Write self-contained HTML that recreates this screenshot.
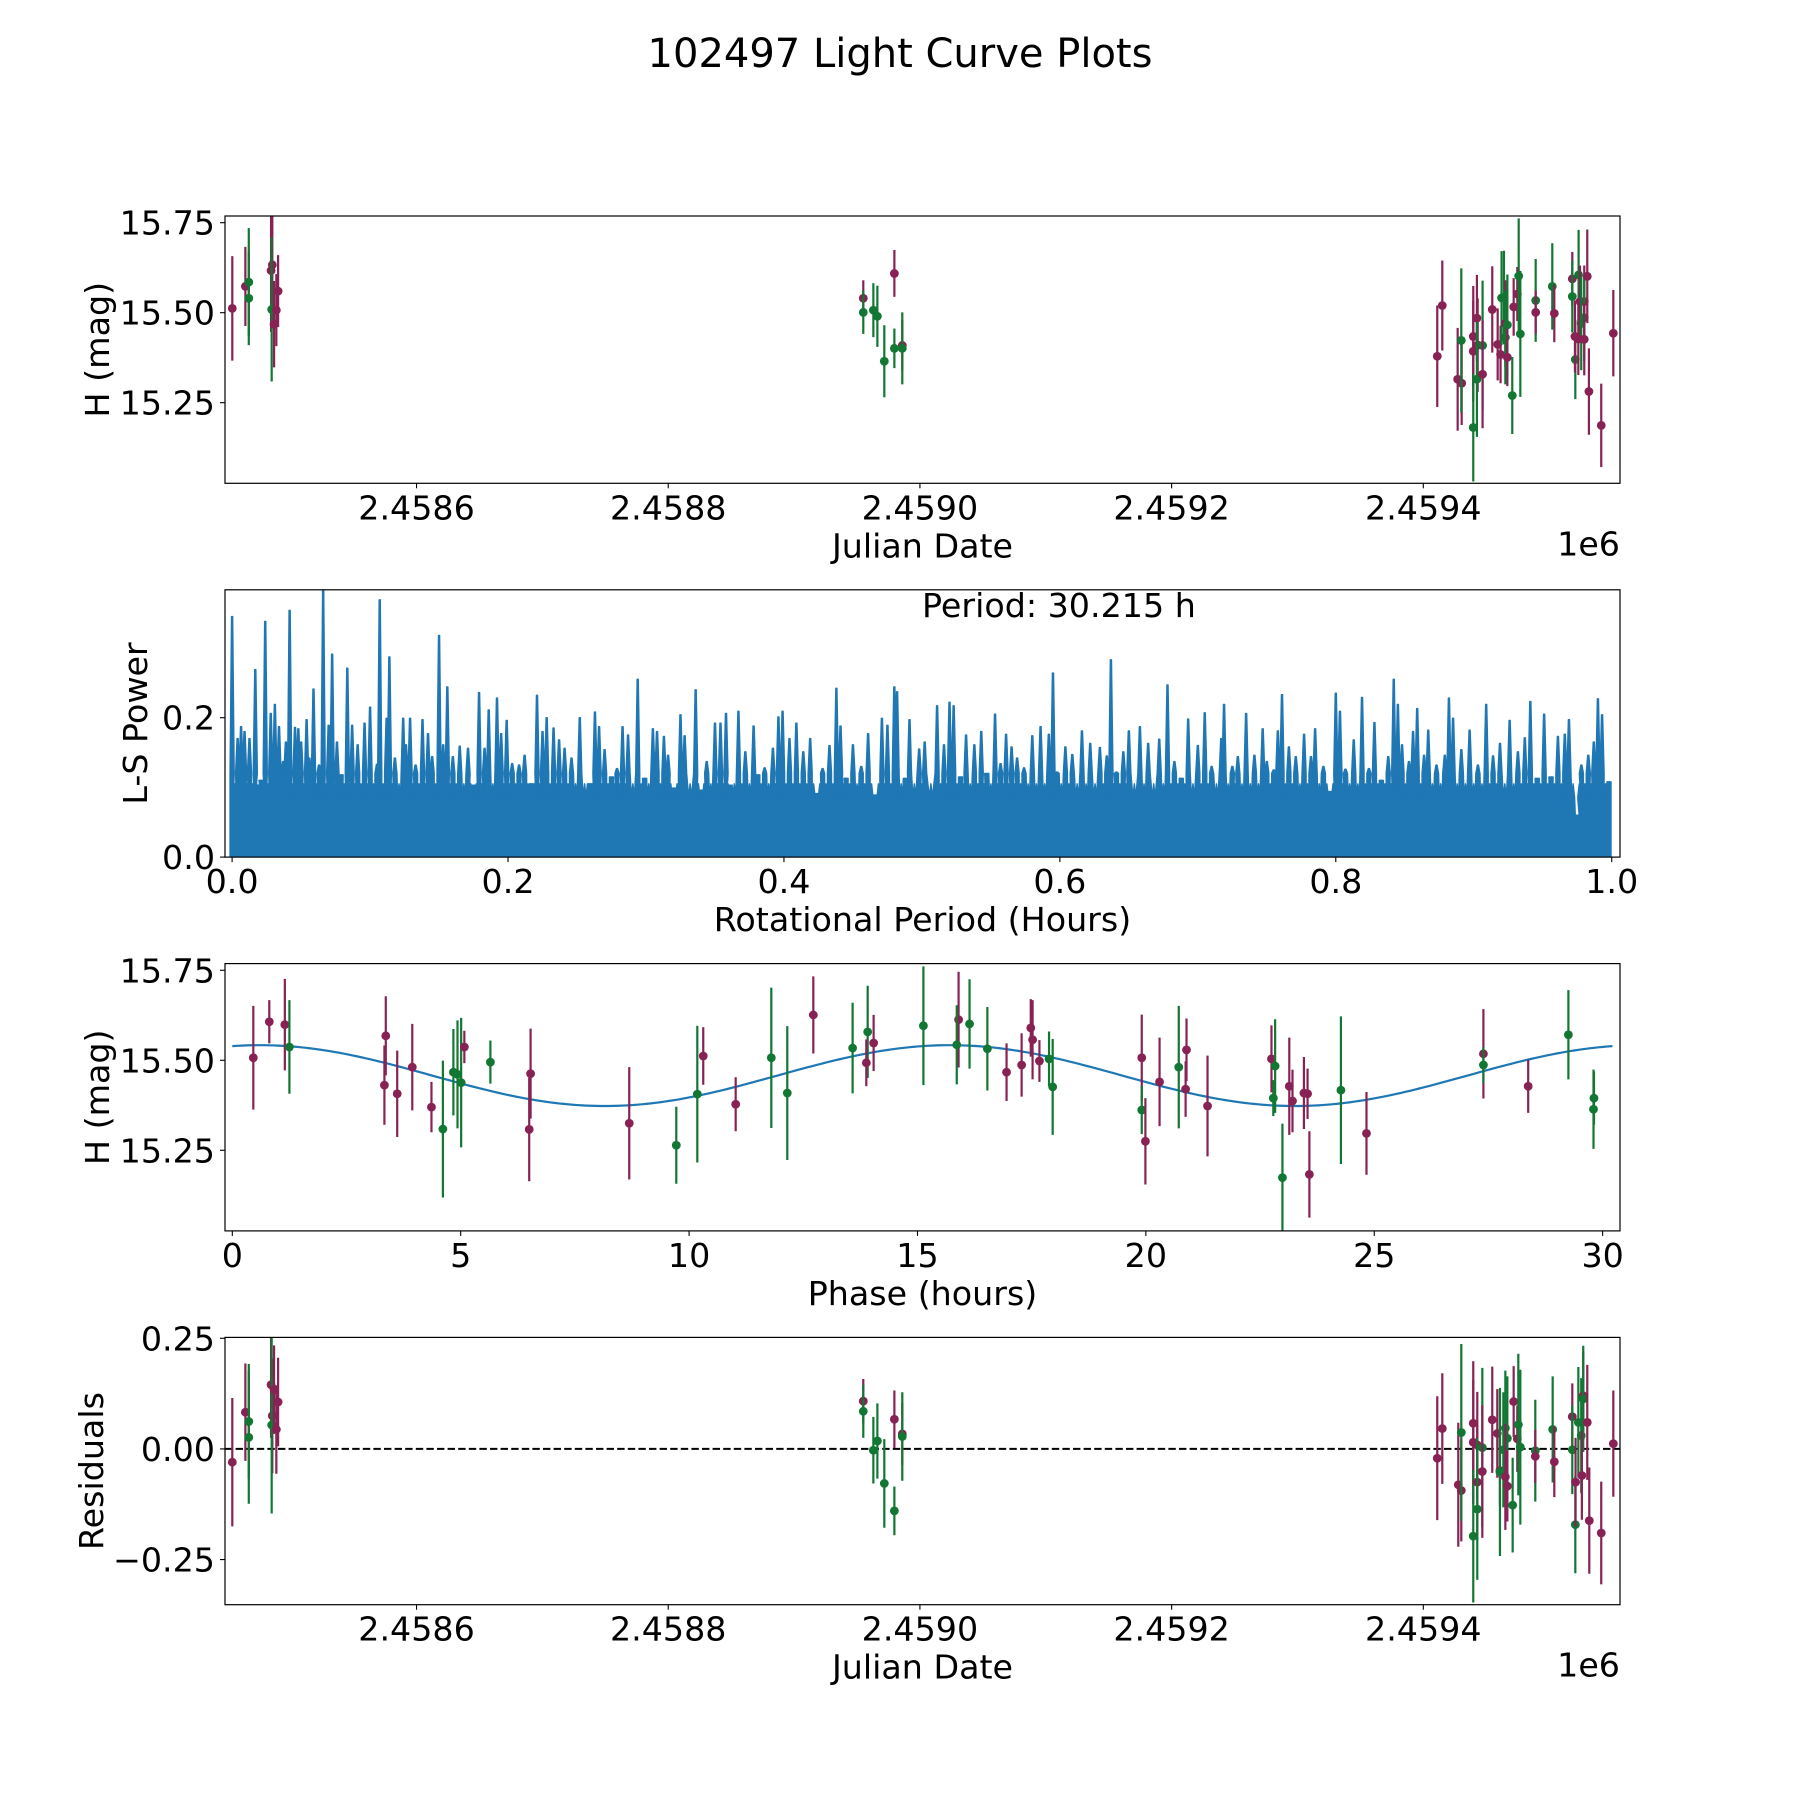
<!DOCTYPE html>
<html><head><meta charset="utf-8"><title>102497 Light Curve Plots</title>
<style>
html,body{margin:0;padding:0;background:#fff;}
svg{display:block;font-family:"DejaVu Sans","Liberation Sans",sans-serif;}
</style></head>
<body>
<svg id="fig" width="1800" height="1800" viewBox="0 0 1800 1800" xmlns="http://www.w3.org/2000/svg">
<rect x="0" y="0" width="1800" height="1800" fill="#fff"/>
<text x="900" y="67" font-size="40" text-anchor="middle">102497 Light Curve Plots</text>
</svg>
<script>
// ---------- light curve data (Julian date, H mag, error, band) ----------
const lcJD = [2458453.6,2458464.0,2458466.7,2458466.7,2458484.4,2458485.4,2458484.9,2458486.8,2458488.6,2458490.0,
 2458955.0,2458955.0,2458963.0,2458966.2,2458971.7,2458979.7,2458979.7,2458986.0,2458986.0,
 2459411.1,2459415.1,2459427.3,2459430.5,2459430.2,2459439.7,2459439.7,2459439.7,2459442.6,2459443.2,2459442.6,2459447.1,2459447.1,
 2459454.8,2459459.1,2459461.4,2459462.2,2459464.1,2459465.2,2459465.2,2459466.8,2459466.8,2459470.7,2459471.8,2459474.7,2459475.8,
 2459477.1,2459489.3,2459489.3,2459502.5,2459504.1,2459518.4,2459518.4,2459520.8,2459520.5,2459523.4,2459524.5,2459527.9,2459525.5,
 2459527.9,2459527.9,2459523.2,2459530.3,2459531.6,2459541.4,2459551.0];
const lcMag = [15.512,15.573,15.585,15.540,15.617,15.633,15.509,15.468,15.507,15.560,
 15.540,15.501,15.507,15.490,15.365,15.609,15.401,15.409,15.401,
 15.379,15.520,15.315,15.304,15.423,15.434,15.393,15.181,15.485,15.410,15.315,15.409,15.329,
 15.509,15.412,15.384,15.541,15.542,15.470,15.431,15.466,15.376,15.270,15.516,15.552,15.602,
 15.441,15.534,15.501,15.573,15.498,15.594,15.545,15.370,15.434,15.605,15.531,15.531,15.470,
 15.486,15.426,15.427,15.601,15.281,15.187,15.443];
const lcErr = [0.145,0.11,0.15,0.13,0.17,0.17,0.2,0.12,0.1,0.1,
 0.05,0.06,0.075,0.085,0.1,0.065,0.055,0.07,0.1,
 0.141,0.125,0.143,0.116,0.2,0.14,0.14,0.15,0.12,0.13,0.16,0.18,0.15,
 0.12,0.1,0.08,0.13,0.13,0.12,0.13,0.14,0.08,0.107,0.08,0.075,0.16,
 0.175,0.115,0.06,0.12,0.08,0.075,0.1,0.11,0.1,0.125,0.1,0.1,0.13,
 0.12,0.1,0.1,0.13,0.12,0.116,0.12];
const lcBand = ['m','m','g','g','m','m','g','m','m','m',
 'm','g','g','g','g','m','g','m','g',
 'm','m','m','m','g','m','m','g','m','m','g','g','m',
 'm','m','m','g','g','m','g','g','m','g','m','m','g',
 'g','g','m','g','m','m','g','g','m','g','m','m','g',
 'g','m','m','m','m','m','m'];

// ---------- periodogram data ----------
const psFreq = [0.000,0.004,0.0065,0.009,0.0126,0.0168,0.019,0.021,0.024,0.028,0.031,0.034,0.037,0.039,0.0417,0.0456,0.048,0.050,0.054,0.056,0.059,0.063,0.066,0.070,0.0725,0.076,0.079,0.0835,0.087,0.091,0.096,0.100,0.105,0.107,0.112,0.114,0.118,0.124,0.126,0.129,0.133,0.138,0.142,0.145,0.150,0.153,0.156,0.160,0.165,0.171,0.175,0.179,0.183,0.186,0.192,0.195,0.199,0.203,0.208,0.212,0.217,0.221,0.225,0.228,0.233,0.237,0.241,0.246,0.252,0.259,0.263,0.266,0.270,0.275,0.279,0.283,0.287,0.294,0.299,0.305,0.308,0.313,0.316,0.320,0.325,0.328,0.336,0.340,0.344,0.350,0.354,0.358,0.361,0.367,0.372,0.378,0.381,0.386,0.392,0.396,0.399,0.404,0.409,0.414,0.419,0.424,0.428,0.433,0.438,0.441,0.445,0.450,0.456,0.461,0.466,0.471,0.475,0.480,0.482,0.488,0.491,0.498,
 0.502,0.511,0.516,0.520,0.523,0.528,0.532,0.538,0.543,0.547,0.553,0.557,0.561,0.565,0.569,0.574,0.580,0.586,0.592,0.595,0.598,0.604,0.609,0.616,0.622,0.629,0.634,0.637,0.641,0.646,0.650,0.658,0.664,0.672,0.678,0.683,0.688,0.693,0.700,0.705,0.710,0.717,0.719,0.725,0.729,0.735,0.741,0.747,0.750,0.755,0.758,0.761,0.766,0.771,0.777,0.782,0.785,0.791,0.796,0.800,0.803,0.807,0.813,0.819,0.824,0.828,0.833,0.838,0.842,0.845,0.848,0.853,0.856,0.859,0.864,0.867,0.873,0.879,0.882,0.885,0.891,0.897,0.903,0.909,0.914,0.919,0.926,0.932,0.937,0.941,0.946,0.951,0.956,0.961,0.966,0.969,0.975,0.978,0.983,0.987,0.990,0.993,0.998];
const psPower = [0.345,0.170,0.187,0.180,0.170,0.269,0.103,0.110,0.338,0.206,0.219,0.187,0.137,0.165,0.354,0.186,0.184,0.165,0.197,0.142,0.241,0.132,0.383,0.189,0.291,0.165,0.118,0.271,0.189,0.161,0.192,0.215,0.133,0.369,0.199,0.287,0.142,0.199,0.161,0.199,0.132,0.197,0.177,0.144,0.318,0.161,0.244,0.144,0.159,0.156,0.103,0.236,0.156,0.211,0.228,0.177,0.196,0.134,0.132,0.146,0.105,0.232,0.180,0.200,0.185,0.168,0.156,0.142,0.200,0.105,0.208,0.187,0.154,0.115,0.127,0.187,0.175,0.255,0.113,0.184,0.180,0.173,0.146,0.099,0.204,0.174,0.240,0.096,0.137,0.192,0.192,0.206,0.103,0.209,0.151,0.188,0.118,0.128,0.156,0.201,0.209,0.170,0.192,0.151,0.170,0.091,0.127,0.160,0.242,0.188,0.113,0.161,0.130,0.177,0.089,0.199,0.189,0.244,0.237,0.113,0.197,0.155,
 0.165,0.217,0.161,0.222,0.217,0.115,0.175,0.161,0.180,0.120,0.205,0.134,0.176,0.158,0.142,0.128,0.174,0.187,0.176,0.264,0.122,0.158,0.147,0.181,0.163,0.157,0.145,0.283,0.122,0.151,0.181,0.187,0.163,0.169,0.247,0.137,0.113,0.198,0.160,0.207,0.130,0.170,0.219,0.130,0.144,0.206,0.146,0.184,0.137,0.125,0.181,0.233,0.158,0.144,0.176,0.144,0.184,0.130,0.094,0.235,0.209,0.126,0.168,0.229,0.127,0.193,0.110,0.144,0.255,0.219,0.161,0.137,0.180,0.213,0.146,0.182,0.132,0.146,0.228,0.199,0.154,0.182,0.132,0.219,0.145,0.163,0.196,0.151,0.171,0.223,0.113,0.205,0.115,0.173,0.176,0.197,0.060,0.132,0.146,0.165,0.227,0.204,0.108];
const psTroughLevel = 0.085;
const psShoulderLevel = 0.12;
const bestPeriodLabel = "Period: 30.215 h";

// ---------- phase-folded data ----------
const phHours = [0.46,0.81,1.15,1.25,3.36,3.33,3.61,3.94,4.36,4.61,4.84,4.93,5.01,5.08,5.65,6.53,6.50,8.69,9.72,10.18,10.31,
 11.02,11.80,12.15,12.72,13.58,13.91,13.88,14.04,15.13,15.90,15.86,16.14,16.53,16.95,17.28,17.48,17.52,17.67,17.88,17.96,
 19.91,19.91,19.99,20.30,20.72,20.87,20.89,21.35,
 22.75,22.83,22.79,22.99,23.14,23.21,23.46,23.54,23.58,24.27,24.83,27.39,27.39,28.37,29.25,29.81,29.80];
const phMag = [15.507,15.607,15.599,15.537,15.568,15.431,15.407,15.481,15.370,15.309,15.467,15.461,15.438,15.537,15.495,15.463,15.308,15.325,15.264,15.406,15.512,
 15.378,15.507,15.409,15.626,15.534,15.579,15.493,15.548,15.596,15.613,15.543,15.601,15.532,15.467,15.487,15.590,15.557,15.498,15.504,15.426,
 15.507,15.362,15.275,15.440,15.481,15.420,15.529,15.373,
 15.504,15.484,15.395,15.174,15.428,15.387,15.409,15.407,15.183,15.417,15.297,15.518,15.487,15.428,15.571,15.395,15.364];
const phErr = [0.144,0.06,0.127,0.13,0.11,0.11,0.12,0.12,0.07,0.19,0.12,0.15,0.18,0.045,0.06,0.125,0.144,0.156,0.107,0.19,0.08,
 0.075,0.195,0.186,0.107,0.126,0.128,0.065,0.078,0.165,0.133,0.11,0.124,0.116,0.08,0.088,0.08,0.11,0.058,0.076,0.133,
 0.12,0.067,0.12,0.123,0.17,0.077,0.087,0.14,
 0.093,0.13,0.05,0.15,0.135,0.087,0.1,0.07,0.12,0.205,0.115,0.124,0.05,0.074,0.124,0.074,0.11];
const phBand = ['m','m','m','g','m','m','m','m','m','g','g','g','g','m','g','m','m','m','g','g','m',
 'm','g','g','m','g','g','m','m','g','m','g','g','g','m','m','m','m','m','g','g',
 'm','g','m','m','g','m','m','m',
 'm','g','g','g','m','m','m','m','m','g','m','m','g','m','g','g','g'];
const periodHours = 30.215;
const modelMean = 15.4575;
const modelAmp = 0.0845;
const modelPeakPhase = 0.6;

// ---------- residuals ----------
const resJD = [2458453.6,2458464.0,2458466.7,2458466.7,2458484.4,2458485.4,2458484.9,2458486.8,2458488.6,2458490.0,
 2458955.0,2458955.0,2458963.0,2458966.2,2458971.7,2458979.7,2458979.7,2458986.0,2458986.0,
 2459411.1,2459415.1,2459427.8,2459430.2,2459430.2,2459439.7,2459439.7,2459439.7,2459442.9,2459442.9,2459442.9,2459446.9,2459446.9,
 2459454.8,2459458.8,2459460.9,2459460.9,2459463.6,2459465.2,2459466.8,2459465.2,2459466.8,2459471.0,2459471.8,2459474.7,2459475.5,
 2459477.1,2459489.0,2459489.0,2459502.8,2459504.1,2459518.4,2459518.4,2459520.8,2459521.0,2459523.2,2459525.5,2459527.1,2459527.1,
 2459530.3,2459526.0,2459531.9,2459541.4,2459551.0];
const resVal = [-0.030,0.083,0.062,0.026,0.145,0.075,0.054,0.134,0.044,0.106,
 0.108,0.085,-0.003,0.018,-0.078,0.067,-0.140,0.034,0.028,
 -0.021,0.046,-0.081,-0.094,0.037,0.058,0.015,-0.197,-0.075,0.009,-0.136,0.003,-0.051,
 0.066,0.035,-0.049,-0.052,-0.002,0.047,0.024,-0.063,-0.084,-0.127,0.107,0.023,0.055,
 0.004,-0.004,-0.017,0.044,-0.029,0.073,-0.002,-0.171,-0.075,0.060,0.030,0.120,0.113,
 0.060,-0.060,-0.162,-0.190,0.012];
const resErr = [0.145,0.11,0.13,0.15,0.12,0.13,0.2,0.1,0.1,0.1,
 0.05,0.06,0.075,0.085,0.1,0.065,0.055,0.07,0.1,
 0.14,0.125,0.14,0.115,0.2,0.14,0.14,0.15,0.13,0.12,0.16,0.18,0.15,
 0.12,0.1,0.08,0.19,0.13,0.13,0.14,0.12,0.08,0.107,0.08,0.075,0.16,
 0.175,0.115,0.06,0.12,0.08,0.075,0.1,0.11,0.1,0.125,0.13,0.1,0.12,
 0.13,0.1,0.12,0.116,0.12];
const resBand = ['m','m','g','g','m','m','g','m','m','m',
 'm','g','g','g','g','m','g','m','g',
 'm','m','m','m','g','m','m','g','m','m','g','g','m',
 'm','m','m','g','g','g','g','m','m','g','m','m','g',
 'g','g','m','g','m','m','g','g','m','g','g','m','g',
 'm','m','m','m','m'];

// ---------- tick labels ----------
const jdTicks = [2458600,2458800,2459000,2459200,2459400];
const jdTickLabels = ["2.4586","2.4588","2.4590","2.4592","2.4594"];
const magTicks = [15.25,15.50,15.75];
const magTickLabels = ["15.25","15.50","15.75"];
const freqTicks = [0,0.2,0.4,0.6,0.8,1.0];
const freqTickLabels = ["0.0","0.2","0.4","0.6","0.8","1.0"];
const powerTicks = [0,0.2];
const powerTickLabels = ["0.0","0.2"];
const phaseTicks = [0,5,10,15,20,25,30];
const phaseTickLabels = ["0","5","10","15","20","25","30"];
const resTicks = [-0.25,0,0.25];
const resTickLabels = ["\u22120.25","0.00","0.25"];

// ---------- rendering ----------
const NS = "http://www.w3.org/2000/svg";
const svg = document.getElementById('fig');
const COL = {m:'#882255', g:'#117733'};
const AX_L = 225, AX_R = 1620, AX_H = 267.3;
const AX_TOPS = [216, 589.8, 963.6, 1337.4];
const FS = 33.3;

function mk(tag, attrs, parent){
  const e = document.createElementNS(NS, tag);
  for (const k in attrs) e.setAttribute(k, attrs[k]);
  (parent || svg).appendChild(e);
  return e;
}
function scale(d0, d1, r0, r1){ return v => r0 + (v - d0) * (r1 - r0) / (d1 - d0); }

function makeAxes(name, top, xdom, ydom){
  const g = mk('g', {});
  
  
  const sx = scale(xdom[0], xdom[1], AX_L, AX_R);
  const sy = scale(ydom[0], ydom[1], top + AX_H, top);
  const clipId = 'clip-' + name;
  const cp = mk('clipPath', {id: clipId}, g);
  mk('rect', {x: AX_L, y: top, width: AX_R - AX_L, height: AX_H}, cp);
  const plot = mk('g', {'clip-path': 'url(#' + clipId + ')'}, g);
  
  
  return {g, plot, sx, sy, top, bottom: top + AX_H};
}

function drawFrame(ax, name){
  const r = mk('rect', {x: AX_L, y: ax.top, width: AX_R - AX_L, height: AX_H, fill: 'none', stroke: '#000', 'stroke-width': 1.2}, ax.g);
  
  
}

function xTicks(ax, vals, labels, name){
  vals.forEach((v, i) => {
    const x = ax.sx(v);
    const t = mk('line', {x1: x, x2: x, y1: ax.bottom, y2: ax.bottom + 5, stroke: '#000', 'stroke-width': 1.1}, ax.g);
    
    
    const tx = mk('text', {x: x, y: ax.bottom + 36, 'font-size': FS, 'text-anchor': 'middle'}, ax.g);
    
    
    tx.textContent = labels[i];
  });
}
function yTicks(ax, vals, labels, name){
  vals.forEach((v, i) => {
    const y = ax.sy(v);
    const t = mk('line', {x1: AX_L - 5, x2: AX_L, y1: y, y2: y, stroke: '#000', 'stroke-width': 1.1}, ax.g);
    
    
    const tx = mk('text', {x: AX_L - 10, y: y + 12, 'font-size': FS, 'text-anchor': 'end'}, ax.g);
    
    
    tx.textContent = labels[i];
  });
}
function axisLabels(ax, xl, yl, ylx, name, offset){
  const t = mk('text', {x: (AX_L + AX_R) / 2, y: ax.bottom + 74, 'font-size': FS, 'text-anchor': 'middle'}, ax.g);
  
  
  t.textContent = xl;
  const cy = ax.top + AX_H / 2;
  const u = mk('text', {x: ylx, y: cy, 'font-size': FS, 'text-anchor': 'middle', transform: 'rotate(-90 ' + ylx + ' ' + cy + ')'}, ax.g);
  
  
  u.textContent = yl;
  if (offset){
    const o = mk('text', {x: AX_R, y: ax.bottom + 72, 'font-size': FS, 'text-anchor': 'end'}, ax.g);
    
    
    o.textContent = offset;
  }
}
function errPoints(ax, xs, ys, es, bands, name){
  for (let i = 0; i < xs.length; i++){
    const x = ax.sx(xs[i]);
    const c = COL[bands[i]];
    const g = mk('g', {}, ax.plot);
    
    
    const l = mk('line', {x1: x, x2: x, y1: ax.sy(ys[i] - es[i]), y2: ax.sy(ys[i] + es[i]), stroke: c, 'stroke-width': 2.2}, g);
    
    
    const d = mk('circle', {cx: x, cy: ax.sy(ys[i]), r: 4.4, fill: c}, g);
    
    
  }
}

const JD_DOM = [2458447.8, 2459556.3];
const MAG_DOM = [15.0261, 15.7686];

// Panel 1: light curve
const ax1 = makeAxes('light-curve-panel', AX_TOPS[0], JD_DOM, MAG_DOM);
errPoints(ax1, lcJD, lcMag, lcErr, lcBand, 'light-curve');
drawFrame(ax1, 'light-curve');
xTicks(ax1, jdTicks, jdTickLabels, 'light-curve');
yTicks(ax1, magTicks, magTickLabels, 'light-curve');
axisLabels(ax1, 'Julian Date', 'H (mag)', 109, 'light-curve', '1e6');

// Panel 2: periodogram
const ax2 = makeAxes('periodogram-panel', AX_TOPS[1], [-0.00515, 1.006], [0, 0.3835]);
(function(){
  const x0 = ax2.sx(psFreq[0]);
  let d = 'M' + (x0 - 2) + ' ' + ax2.sy(0) + ' L' + (x0 - 2) + ' ' + ax2.sy(psTroughLevel);
  for (let i = 0; i < psFreq.length; i++){
    const x = ax2.sx(psFreq[i]);
    const sh = Math.min(psShoulderLevel, psPower[i]);
    if (i > 0){
      const xm = ax2.sx((psFreq[i - 1] + psFreq[i]) / 2);
      d += ' L' + (xm - 1.5) + ' ' + ax2.sy(psTroughLevel);
      d += ' L' + xm + ' ' + ax2.sy(psTroughLevel + 0.02);
      d += ' L' + (xm + 1.5) + ' ' + ax2.sy(psTroughLevel);
    }
    d += ' L' + (x - 2) + ' ' + ax2.sy(sh) + ' L' + (x - 0.5) + ' ' + ax2.sy(psPower[i]) + ' L' + (x + 0.5) + ' ' + ax2.sy(psPower[i]) + ' L' + (x + 2) + ' ' + ax2.sy(sh);
  }
  const xl = ax2.sx(psFreq[psFreq.length - 1]);
  d += ' L' + (xl + 2) + ' ' + ax2.sy(psTroughLevel) + ' L' + (xl + 2) + ' ' + ax2.sy(0) + ' Z';
  const p = mk('path', {d: d, fill: '#1f77b4', stroke: '#1f77b4', 'stroke-width': 1.5, 'stroke-linejoin': 'round'}, ax2.plot);
  
  
})();
drawFrame(ax2, 'periodogram');
xTicks(ax2, freqTicks, freqTickLabels, 'periodogram');
yTicks(ax2, powerTicks, powerTickLabels, 'periodogram');
axisLabels(ax2, 'Rotational Period (Hours)', 'L-S Power', 147, 'periodogram', null);
(function(){
  const t = mk('text', {x: 922, y: 617, 'font-size': FS}, ax2.g);
  
  
  t.textContent = bestPeriodLabel;
})();

// Panel 3: phase-folded
const ax3 = makeAxes('phase-panel', AX_TOPS[2], [-0.16, 30.38], MAG_DOM);
(function(){
  let d = '';
  const n = 300;
  for (let i = 0; i <= n; i++){
    const p = periodHours * i / n;
    const m = modelMean + modelAmp * Math.cos(4 * Math.PI * (p - modelPeakPhase) / periodHours);
    d += (i ? ' L' : 'M') + ax3.sx(p).toFixed(2) + ' ' + ax3.sy(m).toFixed(2);
  }
  const c = mk('path', {d: d, fill: 'none', stroke: '#1f77b4', 'stroke-width': 2.2}, ax3.plot);
  
  
})();
errPoints(ax3, phHours, phMag, phErr, phBand, 'phase');
drawFrame(ax3, 'phase');
xTicks(ax3, phaseTicks, phaseTickLabels, 'phase');
yTicks(ax3, magTicks, magTickLabels, 'phase');
axisLabels(ax3, 'Phase (hours)', 'H (mag)', 109, 'phase', null);

// Panel 4: residuals
const ax4 = makeAxes('residuals-panel', AX_TOPS[3], JD_DOM, [-0.352, 0.252]);
(function(){
  const z = mk('line', {x1: AX_L, x2: AX_R, y1: ax4.sy(0), y2: ax4.sy(0), stroke: '#000', 'stroke-width': 2, 'stroke-dasharray': '7.4 3.2'}, ax4.plot);
  
  
})();
errPoints(ax4, resJD, resVal, resErr, resBand, 'residual');
drawFrame(ax4, 'residuals');
xTicks(ax4, jdTicks, jdTickLabels, 'residuals');
yTicks(ax4, resTicks, resTickLabels, 'residuals');
axisLabels(ax4, 'Julian Date', 'Residuals', 103, 'residuals', '1e6');
</script>
</body></html>
